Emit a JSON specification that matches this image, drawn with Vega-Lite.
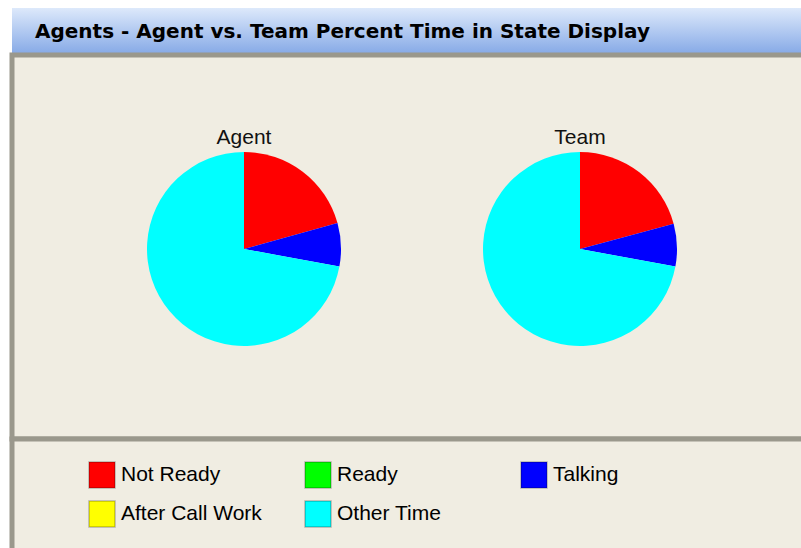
{
  "$schema": "https://vega.github.io/schema/vega-lite/v6.json",
  "background": "#ffffff",
  "padding": {"left": 9, "top": 8, "right": 0, "bottom": 0},
  "spacing": 0,
  "bounds": "flush",
  "datasets": {
    "states": [
      {"chart": "Agent", "state": "Not Ready", "code": 1, "pct": 20.7},
      {"chart": "Agent", "state": "Ready", "code": 2, "pct": 0},
      {"chart": "Agent", "state": "Talking", "code": 3, "pct": 7.2},
      {"chart": "Agent", "state": "After Call Work", "code": 4, "pct": 0},
      {"chart": "Agent", "state": "Other Time", "code": 5, "pct": 72.1},
      {"chart": "Team", "state": "Not Ready", "code": 1, "pct": 20.8},
      {"chart": "Team", "state": "Ready", "code": 2, "pct": 0},
      {"chart": "Team", "state": "Talking", "code": 3, "pct": 7.1},
      {"chart": "Team", "state": "After Call Work", "code": 4, "pct": 0},
      {"chart": "Team", "state": "Other Time", "code": 5, "pct": 72.1}
    ],
    "charts": [{"chart": "Agent"}, {"chart": "Team"}]
  },
  "vconcat": [
    {
      "width": 795,
      "height": 47,
      "view": {
        "fill": {"gradient": "linear", "x1": 0, "y1": 0, "x2": 0, "y2": 1, "stops": [{"offset": 0, "color": "#dde9fb"}, {"offset": 1, "color": "#84a8e6"}]},
        "stroke": null
      },
      "title": {
        "text": "Agents - Agent vs. Team Percent Time in State Display",
        "anchor": "start",
        "orient": "top",
        "frame": "group",
        "offset": -34,
        "dx": 23,
        "baseline": "top",
        "font": "DejaVu Sans",
        "fontSize": 20,
        "fontWeight": "bold",
        "color": "#000000"
      },
      "data": {"name": "charts"},
      "mark": {"type": "text", "opacity": 0},
      "encoding": {"text": {"field": "chart", "type": "nominal"}}
    },
    {
      "width": 795,
      "height": 384,
      "view": {"fill": "#f0ede2", "stroke": "#9a988c", "strokeWidth": 5},
      "layer": [
        {
          "data": {"name": "states"},
          "transform": [{"filter": "datum.chart == 'Agent'"}],
          "mark": {"type": "arc", "outerRadius": 97},
          "encoding": {
            "x": {"field": "chart", "type": "nominal", "scale": {"type": "point", "domain": ["Agent", "Team"], "range": [232, 568], "padding": 0}, "axis": null},
            "y": {"field": "chart", "type": "nominal", "scale": {"type": "point", "domain": ["Agent", "Team"], "range": [194, 194], "padding": 0}, "axis": null},
            "theta": {"field": "pct", "type": "quantitative", "stack": true},
            "order": {"field": "code", "type": "quantitative"},
            "color": {"field": "state", "type": "nominal", "scale": {"domain": ["Not Ready", "Ready", "Talking", "After Call Work", "Other Time"], "range": ["#ff0000", "#00ff00", "#0000ff", "#ffff00", "#00ffff"]}, "legend": null}
          }
        },
        {
          "data": {"name": "states"},
          "transform": [{"filter": "datum.chart == 'Team'"}],
          "mark": {"type": "arc", "outerRadius": 97},
          "encoding": {
            "x": {"field": "chart", "type": "nominal", "scale": {"type": "point", "domain": ["Agent", "Team"], "range": [232, 568], "padding": 0}, "axis": null},
            "y": {"field": "chart", "type": "nominal", "scale": {"type": "point", "domain": ["Agent", "Team"], "range": [194, 194], "padding": 0}, "axis": null},
            "theta": {"field": "pct", "type": "quantitative", "stack": true},
            "order": {"field": "code", "type": "quantitative"},
            "color": {"field": "state", "type": "nominal", "scale": {"domain": ["Not Ready", "Ready", "Talking", "After Call Work", "Other Time"], "range": ["#ff0000", "#00ff00", "#0000ff", "#ffff00", "#00ffff"]}, "legend": null}
          }
        },
        {
          "data": {"name": "charts"},
          "mark": {"type": "text", "dy": -105, "baseline": "alphabetic", "align": "center", "font": "Liberation Sans", "fontSize": 21, "color": "#111111"},
          "encoding": {
            "x": {"field": "chart", "type": "nominal", "scale": {"type": "point", "domain": ["Agent", "Team"], "range": [232, 568], "padding": 0}, "axis": null},
            "y": {"field": "chart", "type": "nominal", "scale": {"type": "point", "domain": ["Agent", "Team"], "range": [194, 194], "padding": 0}, "axis": null},
            "text": {"field": "chart", "type": "nominal"}
          }
        }
      ]
    },
    {
      "width": 795,
      "height": 120,
      "view": {"fill": "#f0ede2", "stroke": "#9a988c", "strokeWidth": 5},
      "data": {"name": "states"},
      "mark": {"type": "square", "opacity": 0},
      "encoding": {
        "color": {
          "field": "state",
          "type": "nominal",
          "scale": {"domain": ["Not Ready", "Ready", "Talking", "After Call Work", "Other Time"], "range": ["#ff0000", "#00ff00", "#0000ff", "#ffff00", "#00ffff"]},
          "legend": {
            "orient": "none",
            "legendX": 76,
            "legendY": 22,
            "columns": 3,
            "direction": "horizontal",
            "title": null,
            "symbolType": "square",
            "symbolSize": 676,
            "symbolOpacity": 1,
            "symbolStrokeWidth": 1.5,
            "symbolStrokeColor": "rgba(0,0,0,0.25)",
            "labelFont": "Liberation Sans",
            "labelFontSize": 21,
            "labelColor": "#000000",
            "labelOffset": 5,
            "labelLimit": 300,
            "columnPadding": 40,
            "rowPadding": 7,
            "gridAlign": "all"
          }
        }
      }
    }
  ],
  "resolve": {"legend": {"color": "independent"}},
  "config": {"font": "Liberation Sans"}
}
